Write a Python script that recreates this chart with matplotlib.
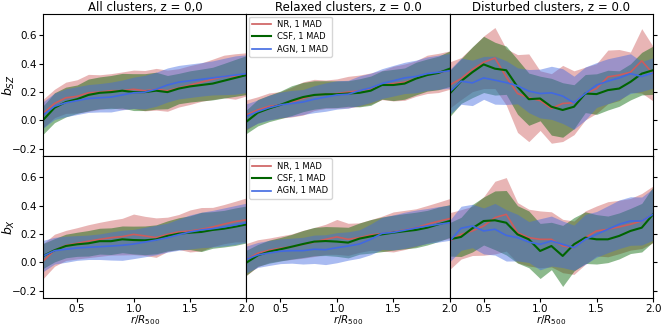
import matplotlib
matplotlib.use('Agg')
import matplotlib.pyplot as plt
import numpy as np

# radial bins (r/R500)
r = [0.2, 0.3, 0.4, 0.5, 0.6, 0.7, 0.8, 0.9, 1.0, 1.1, 1.2, 1.3, 1.4, 1.5, 1.6, 1.7, 1.8, 1.9, 2.0]

# b_SZ, all clusters
sz_all_nr_med = [0.05, 0.12, 0.16, 0.17, 0.195, 0.20, 0.21, 0.21, 0.22, 0.21, 0.22, 0.21, 0.23, 0.25, 0.27, 0.29, 0.31, 0.31, 0.325]
sz_all_nr_mad = [0.10, 0.10, 0.11, 0.117, 0.13, 0.122, 0.12, 0.132, 0.135, 0.142, 0.147, 0.145, 0.135, 0.137, 0.135, 0.142, 0.15, 0.16, 0.152]
sz_all_csf_med = [0.004, 0.09, 0.13, 0.15, 0.18, 0.195, 0.20, 0.21, 0.20, 0.20, 0.21, 0.20, 0.225, 0.24, 0.25, 0.26, 0.28, 0.30, 0.32]
sz_all_csf_mad = [0.10, 0.105, 0.105, 0.10, 0.112, 0.112, 0.117, 0.122, 0.13, 0.13, 0.13, 0.117, 0.107, 0.11, 0.112, 0.115, 0.122, 0.13, 0.137]
sz_all_agn_med = [0.04, 0.10, 0.125, 0.14, 0.155, 0.16, 0.165, 0.18, 0.195, 0.20, 0.22, 0.25, 0.27, 0.28, 0.29, 0.30, 0.31, 0.32, 0.33]
sz_all_agn_mad = [0.093, 0.093, 0.098, 0.098, 0.098, 0.10, 0.105, 0.105, 0.11, 0.118, 0.12, 0.12, 0.118, 0.118, 0.118, 0.12, 0.128, 0.135, 0.133]

# b_SZ, relaxed clusters
sz_rel_nr_med = [0.04, 0.075, 0.10, 0.11, 0.13, 0.155, 0.18, 0.185, 0.19, 0.20, 0.21, 0.225, 0.25, 0.26, 0.27, 0.295, 0.325, 0.335, 0.355]
sz_rel_nr_mad = [0.105, 0.092, 0.094, 0.093, 0.105, 0.117, 0.11, 0.10, 0.103, 0.111, 0.11, 0.11, 0.103, 0.122, 0.128, 0.125, 0.135, 0.138, 0.135]
sz_rel_csf_med = [-0.008, 0.055, 0.085, 0.11, 0.14, 0.165, 0.18, 0.185, 0.185, 0.19, 0.195, 0.21, 0.25, 0.25, 0.26, 0.295, 0.32, 0.335, 0.365]
sz_rel_csf_mad = [0.083, 0.093, 0.093, 0.097, 0.105, 0.103, 0.10, 0.095, 0.094, 0.09, 0.099, 0.103, 0.10, 0.11, 0.11, 0.115, 0.113, 0.118, 0.125]
sz_rel_agn_med = [0.03, 0.063, 0.09, 0.11, 0.12, 0.13, 0.15, 0.165, 0.18, 0.185, 0.21, 0.23, 0.26, 0.28, 0.30, 0.31, 0.33, 0.34, 0.35]
sz_rel_agn_mad = [0.088, 0.082, 0.088, 0.09, 0.092, 0.088, 0.095, 0.10, 0.10, 0.098, 0.104, 0.103, 0.105, 0.108, 0.11, 0.115, 0.118, 0.12, 0.122]

# b_SZ, disturbed clusters
sz_dis_nr_med = [0.25, 0.295, 0.36, 0.41, 0.44, 0.307, 0.19, 0.16, 0.14, 0.085, 0.12, 0.125, 0.19, 0.225, 0.307, 0.32, 0.34, 0.42, 0.33]
sz_dis_nr_mad = [0.163, 0.148, 0.157, 0.185, 0.215, 0.198, 0.274, 0.309, 0.21, 0.245, 0.268, 0.225, 0.186, 0.175, 0.189, 0.18, 0.142, 0.227, 0.192]
sz_dis_csf_med = [0.19, 0.277, 0.34, 0.395, 0.365, 0.354, 0.237, 0.15, 0.155, 0.097, 0.074, 0.097, 0.19, 0.186, 0.214, 0.225, 0.272, 0.33, 0.354]
sz_dis_csf_mad = [0.163, 0.157, 0.179, 0.198, 0.186, 0.17, 0.193, 0.184, 0.157, 0.20, 0.192, 0.155, 0.134, 0.143, 0.14, 0.125, 0.127, 0.15, 0.17]
sz_dis_agn_med = [0.202, 0.277, 0.265, 0.30, 0.284, 0.267, 0.244, 0.207, 0.19, 0.195, 0.172, 0.125, 0.19, 0.25, 0.277, 0.30, 0.33, 0.31, 0.335]
sz_dis_agn_mad = [0.158, 0.163, 0.16, 0.151, 0.169, 0.154, 0.127, 0.152, 0.172, 0.187, 0.193, 0.187, 0.187, 0.158, 0.158, 0.152, 0.14, 0.105, 0.107]

# b_X, all clusters
x_all_nr_med = [0.01, 0.086, 0.12, 0.135, 0.15, 0.163, 0.175, 0.182, 0.198, 0.187, 0.175, 0.198, 0.215, 0.222, 0.234, 0.25, 0.27, 0.288, 0.30]
x_all_nr_mad = [0.123, 0.113, 0.106, 0.11, 0.116, 0.12, 0.123, 0.129, 0.143, 0.138, 0.139, 0.121, 0.123, 0.148, 0.153, 0.138, 0.138, 0.143, 0.155]
x_all_csf_med = [0.046, 0.086, 0.116, 0.128, 0.135, 0.15, 0.15, 0.163, 0.158, 0.156, 0.163, 0.187, 0.203, 0.21, 0.215, 0.229, 0.238, 0.252, 0.268]
x_all_csf_mad = [0.088, 0.082, 0.083, 0.085, 0.09, 0.091, 0.094, 0.094, 0.098, 0.101, 0.102, 0.106, 0.112, 0.119, 0.138, 0.129, 0.129, 0.132, 0.13]
x_all_agn_med = [0.046, 0.083, 0.093, 0.102, 0.107, 0.111, 0.116, 0.121, 0.13, 0.144, 0.158, 0.175, 0.196, 0.215, 0.229, 0.238, 0.25, 0.264, 0.28]
x_all_agn_mad = [0.11, 0.094, 0.092, 0.087, 0.086, 0.09, 0.099, 0.106, 0.103, 0.104, 0.104, 0.102, 0.11, 0.12, 0.125, 0.129, 0.134, 0.137, 0.138]

# b_X, relaxed clusters
x_rel_nr_med = [0.022, 0.065, 0.086, 0.10, 0.111, 0.128, 0.144, 0.163, 0.18, 0.163, 0.175, 0.194, 0.203, 0.215, 0.229, 0.245, 0.269, 0.29, 0.309]
x_rel_nr_mad = [0.112, 0.095, 0.086, 0.087, 0.09, 0.098, 0.102, 0.106, 0.123, 0.113, 0.104, 0.108, 0.123, 0.141, 0.138, 0.133, 0.132, 0.135, 0.141]
x_rel_csf_med = [-0.001, 0.05, 0.076, 0.093, 0.111, 0.13, 0.147, 0.151, 0.147, 0.14, 0.168, 0.184, 0.198, 0.21, 0.22, 0.229, 0.245, 0.269, 0.292]
x_rel_csf_mad = [0.088, 0.077, 0.081, 0.083, 0.087, 0.095, 0.10, 0.102, 0.104, 0.108, 0.11, 0.118, 0.122, 0.123, 0.124, 0.125, 0.122, 0.121, 0.115]
x_rel_agn_med = [0.022, 0.053, 0.067, 0.079, 0.083, 0.083, 0.093, 0.09, 0.104, 0.116, 0.13, 0.163, 0.205, 0.212, 0.227, 0.243, 0.257, 0.269, 0.28]
x_rel_agn_mad = [0.094, 0.088, 0.088, 0.087, 0.088, 0.094, 0.10, 0.105, 0.106, 0.10, 0.10, 0.108, 0.113, 0.123, 0.127, 0.126, 0.123, 0.125, 0.124]

# b_X, disturbed clusters
x_dis_nr_med = [0.151, 0.198, 0.222, 0.257, 0.316, 0.339, 0.21, 0.175, 0.163, 0.163, 0.116, 0.104, 0.175, 0.222, 0.234, 0.25, 0.269, 0.292, 0.339]
x_dis_nr_mad = [0.20, 0.174, 0.173, 0.206, 0.256, 0.259, 0.212, 0.20, 0.20, 0.194, 0.188, 0.188, 0.188, 0.176, 0.194, 0.188, 0.182, 0.194, 0.20]
x_dis_csf_med = [0.163, 0.18, 0.241, 0.292, 0.297, 0.28, 0.198, 0.163, 0.081, 0.116, 0.046, 0.128, 0.175, 0.163, 0.163, 0.187, 0.222, 0.245, 0.339]
x_dis_csf_mad = [0.118, 0.138, 0.167, 0.169, 0.207, 0.227, 0.202, 0.20, 0.194, 0.167, 0.215, 0.188, 0.182, 0.174, 0.164, 0.162, 0.159, 0.171, 0.194]
x_dis_agn_med = [0.151, 0.241, 0.257, 0.222, 0.234, 0.191, 0.175, 0.144, 0.128, 0.151, 0.128, 0.104, 0.163, 0.198, 0.234, 0.269, 0.292, 0.292, 0.339]
x_dis_agn_mad = [0.146, 0.155, 0.153, 0.162, 0.182, 0.181, 0.164, 0.144, 0.18, 0.176, 0.164, 0.159, 0.176, 0.161, 0.165, 0.171, 0.171, 0.169, 0.182]

titles = ['All clusters, z = 0,0', 'Relaxed clusters, z = 0.0', 'Disturbed clusters, z = 0.0']
ylabels = ['$b_{SZ}$', '$b_X$']
model_names = ['NR, 1 MAD', 'CSF, 1 MAD', 'AGN, 1 MAD']
colors = ['indianred', 'darkgreen', 'royalblue']

panels = [
    [(sz_all_nr_med, sz_all_nr_mad, sz_all_csf_med, sz_all_csf_mad, sz_all_agn_med, sz_all_agn_mad),
     (sz_rel_nr_med, sz_rel_nr_mad, sz_rel_csf_med, sz_rel_csf_mad, sz_rel_agn_med, sz_rel_agn_mad),
     (sz_dis_nr_med, sz_dis_nr_mad, sz_dis_csf_med, sz_dis_csf_mad, sz_dis_agn_med, sz_dis_agn_mad)],
    [(x_all_nr_med, x_all_nr_mad, x_all_csf_med, x_all_csf_mad, x_all_agn_med, x_all_agn_mad),
     (x_rel_nr_med, x_rel_nr_mad, x_rel_csf_med, x_rel_csf_mad, x_rel_agn_med, x_rel_agn_mad),
     (x_dis_nr_med, x_dis_nr_mad, x_dis_csf_med, x_dis_csf_mad, x_dis_agn_med, x_dis_agn_mad)],
]

fig, axes = plt.subplots(2, 3, figsize=(6.65, 3.26), dpi=100, sharex=True, sharey=True)
fig.subplots_adjust(left=0.065, right=0.982, top=0.957, bottom=0.086, wspace=0, hspace=0)

for row in range(2):
    for col in range(3):
        ax = axes[row, col]
        data = panels[row][col]
        for k in range(3):
            med = np.array(data[2 * k])
            mad = np.array(data[2 * k + 1])
            ax.fill_between(r, med - mad, med + mad, color=colors[k], alpha=0.45, lw=0)
        for k in range(3):
            med = np.array(data[2 * k])
            lw = 1.5 if k == 1 else 1.2
            ax.plot(r, med, color=colors[k], lw=lw, label=model_names[k])
        ax.set_xlim(0.2, 2.0)
        ax.set_ylim(-0.25, 0.75)
        ax.set_xticks([0.5, 1.0, 1.5, 2.0])
        ax.set_yticks([-0.2, 0.0, 0.2, 0.4, 0.6])
        ax.tick_params(labelsize=7.5, length=3, pad=1.5)
        ax.tick_params(axis='x', pad=1)
        if row == 0:
            ax.set_title(titles[col], fontsize=8.5, pad=1.5)
            ax.tick_params(labelbottom=False)
        else:
            ax.set_xlabel('$r/R_{500}$', fontsize=7.5)
            ax.xaxis.set_label_coords(0.5, -0.105)
        if col == 0:
            ax.set_ylabel(ylabels[row], fontsize=9)
            ax.yaxis.set_label_coords(-0.13, 0.5)
        elif col == 1:
            ax.tick_params(left=False, labelleft=False)
            ax.legend(loc='upper left', fontsize=6, handlelength=2.2, borderaxespad=0.3, labelspacing=0.4)
        else:
            ax.tick_params(left=False, labelleft=False, right=True)

fig.savefig('out.png', dpi=100)
